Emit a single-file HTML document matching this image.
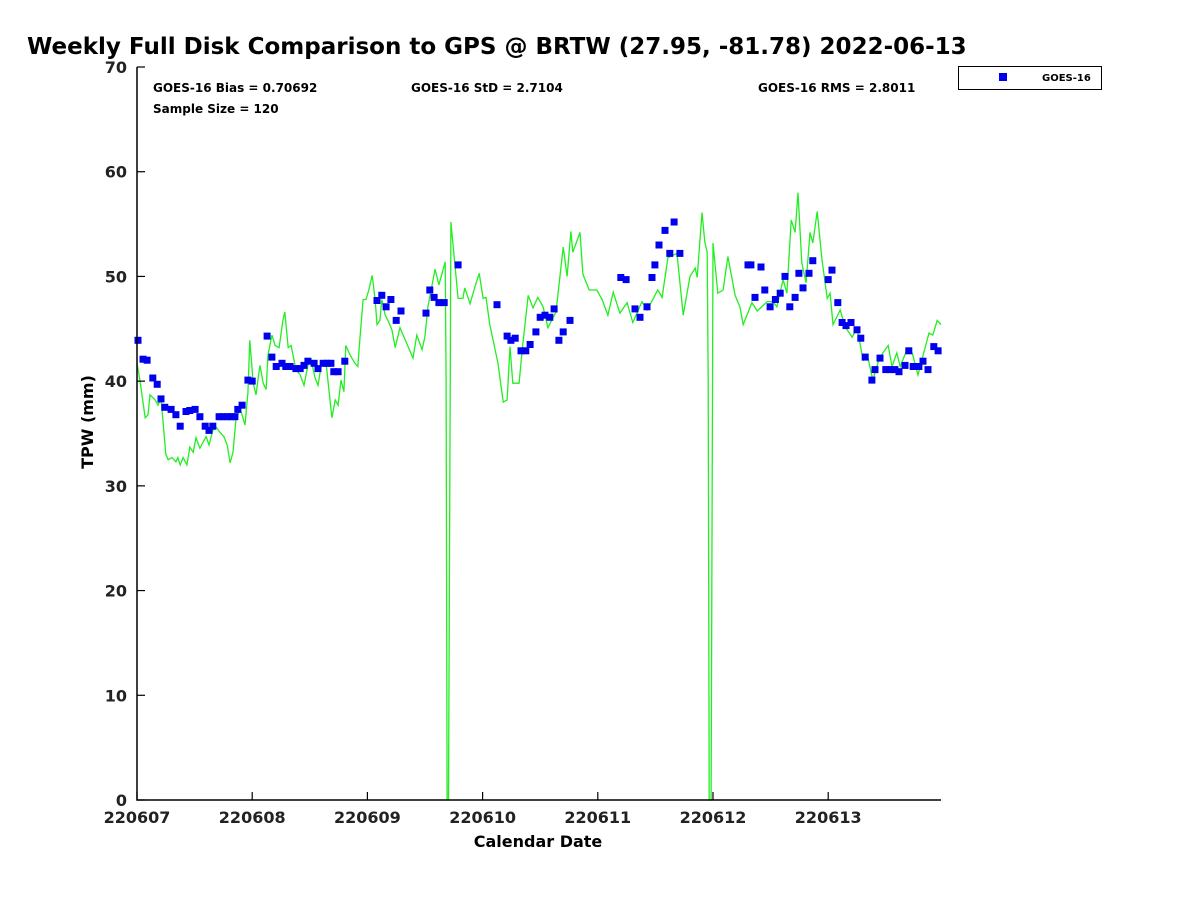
<!DOCTYPE html>
<html><head><meta charset="utf-8"><style>
body{margin:0;background:#fff;}
svg{display:block;font-family:"DejaVu Sans","Liberation Sans",sans-serif;}
</style></head><body>
<svg id="chart" width="1200" height="900" viewBox="0 0 1200 900">
<text x="27" y="54" font-size="23" font-weight="bold">Weekly Full Disk Comparison to GPS @ BRTW (27.95, -81.78) 2022-06-13</text>
<g font-size="12" font-weight="bold">
<text x="153" y="92">GOES-16 Bias = 0.70692</text>
<text x="411" y="92">GOES-16 StD = 2.7104</text>
<text x="758" y="92">GOES-16 RMS = 2.8011</text>
<text x="153" y="113">Sample Size = 120</text>
</g>
<g>
<rect x="958.5" y="66.5" width="143" height="23" fill="#fff" stroke="#000" stroke-width="1"/>
<rect x="999" y="73" width="8" height="8" fill="#0000ee"/>
<text x="1042" y="81" font-size="10" font-weight="bold">GOES-16</text>
</g>
<g id="plot"></g>
<text x="538" y="847" font-size="16" font-weight="bold" text-anchor="middle">Calendar Date</text>
<text transform="translate(93,422) rotate(-90)" font-size="16" font-weight="bold" text-anchor="middle">TPW (mm)</text>
</svg>
<script>
const yTicks=[0,10,20,30,40,50,60,70];
const xTickLabels=["220607","220608","220609","220610","220611","220612","220613"];
const gpsHours=[0,0.6,1.7,2.3,2.7,3.8,4.4,5,5.4,6,6.5,7.3,8.1,8.5,9,9.6,10.4,11,11.7,12.3,13.1,13.8,14.4,15,15.8,16.5,17.3,18.1,18.8,19.4,20,20.6,21.5,22.5,23.1,23.5,24.2,24.8,25.6,26.3,26.9,27.3,28.1,28.8,29.6,30.4,30.8,31.5,32.1,33.1,34,34.8,35.6,36.3,37.1,37.7,38.5,39.4,40.2,40.6,41.3,41.9,42.5,43.1,43.5,44.4,45.4,46,46.5,47.1,47.7,48.3,49,49.6,50,50.6,51,51.7,52.3,53.1,53.8,54.8,57.5,58.3,59.4,60,60.6,62.1,62.9,64.2,64.4,64.6,64.9,65.4,66.9,67.9,68.3,69.4,70.4,71.3,72.1,72.7,73.5,75.2,76.3,77.1,77.7,78.3,79.6,80.2,81.5,82.5,83.5,84.6,85.6,87.3,88.8,89.6,90.4,90.8,92.3,92.9,94.2,95.8,96.9,98.1,99.2,100.6,102.1,103.3,105.2,106.3,108.5,109.4,110.6,112.5,113.8,115.2,116.3,116.7,117.7,118.3,118.8,119,119.2,119.6,120,121,122.1,123.1,124.6,125.6,126.3,128.1,129.2,131.3,132.5,133.3,134.6,135.4,136.3,137.1,137.7,138.5,139.4,140.2,140.8,141.7,142.7,143.8,144.4,145,146.5,147.5,149,150,151.3,152.3,153.3,154.4,155.4,156.5,157.3,158.3,159,160.4,161.5,162.7,163.8,165,165.8,166.7,167.5];
const gpsValues=[41.7,40.1,36.5,36.8,38.7,38.2,37.7,38.4,36.3,33.0,32.5,32.7,32.3,32.7,32.0,32.7,32.0,33.7,33.2,34.6,33.6,34.2,34.7,33.9,35.3,35.6,35.1,34.7,33.9,32.2,33.2,36.3,37.4,35.8,38.9,43.9,39.8,38.7,41.5,39.8,39.2,42.5,44.4,43.4,43.2,45.8,46.6,43.2,43.4,41.1,40.6,39.6,41.5,42.0,40.3,39.6,41.8,41.7,38.2,36.5,38.2,37.7,40.1,39.0,43.4,42.5,41.7,41.4,44.4,47.8,47.8,48.7,50.1,47.8,45.4,45.8,47.8,46.3,45.8,44.9,43.2,45.1,42.2,44.4,43.0,44.3,47.1,50.7,49.2,51.4,40.1,0,0,55.2,47.9,47.9,48.9,47.4,49.0,50.3,47.9,48.0,45.4,41.7,38.0,38.2,43.3,39.8,39.8,42.8,48.2,47.0,48.0,47.1,45.1,46.6,52.8,50.0,54.3,52.3,54.2,50.2,48.7,48.7,47.8,46.3,48.5,46.5,47.5,45.6,47.6,46.8,48.7,48.0,51.8,52.2,46.3,50.0,50.8,49.9,56.1,53.3,52.3,40,0,0,53.2,48.4,48.7,51.9,48.2,47.1,45.4,47.5,46.7,47.6,47.6,47.1,49.7,48.4,55.4,54.2,58.0,51.3,49.4,54.2,53.2,56.2,51.6,47.9,48.4,45.4,46.8,45.2,44.2,45.1,42.0,42.2,40.1,41.8,42.7,43.4,41.4,42.7,41.4,43.0,42.7,40.6,42.5,44.6,44.4,45.8,45.4];
const goesHours=[0.2,1.25,2.1,3.3,4.2,5,5.8,7.1,8.1,9,10.2,11,12.1,13.1,14.2,15,15.8,17.1,17.9,18.8,19.6,20.4,21,21.9,23.1,24,27.1,28.1,29,30.2,31,31.9,33.1,34,34.8,35.6,36.9,37.7,38.8,39.6,40.4,41,41.9,43.3,50,51,51.9,52.9,54,55,60.2,61,61.9,62.9,64,66.9,75,77.1,77.9,78.8,80,81,81.9,83.1,84,85,86,86.9,87.9,88.8,90.2,100.8,101.9,103.75,104.8,106.25,107.3,107.9,108.75,110,111,111.9,113.1,127.3,127.9,128.75,130,130.8,131.9,133,134,135,136,137.1,137.9,138.75,140,140.8,144,144.8,146,146.9,147.7,148.75,150,150.8,151.7,153.1,153.75,154.8,156,156.9,157.9,158.75,160,160.8,161.7,162.9,163.75,164.8,166,166.9];
const goesValues=[43.9,42.1,42.0,40.3,39.7,38.3,37.5,37.3,36.8,35.7,37.1,37.2,37.3,36.6,35.7,35.3,35.7,36.6,36.6,36.6,36.6,36.6,37.3,37.7,40.1,40.0,44.3,42.3,41.4,41.7,41.4,41.4,41.2,41.2,41.5,41.9,41.7,41.2,41.7,41.7,41.7,40.9,40.9,41.9,47.7,48.2,47.1,47.8,45.8,46.7,46.5,48.7,48.0,47.5,47.5,51.1,47.3,44.3,43.9,44.1,42.9,42.9,43.5,44.7,46.1,46.3,46.1,46.9,43.9,44.7,45.8,49.9,49.7,46.9,46.1,47.1,49.9,51.1,53.0,54.4,52.2,55.2,52.2,51.1,51.1,48.0,50.9,48.7,47.1,47.8,48.4,50.0,47.1,48.0,50.3,48.9,50.3,51.5,49.7,50.6,47.5,45.6,45.3,45.6,44.9,44.1,42.3,40.1,41.1,42.2,41.1,41.1,41.1,40.9,41.5,42.9,41.4,41.4,41.9,41.1,43.3,42.9];

const NS='http://www.w3.org/2000/svg';
const X0=137,X1=941,Y0=800,Y1=67;
const pxPerDay=115.2;
const xs=h=>X0+h/24*pxPerDay;
const ys=v=>Y0-(v/70)*(Y0-Y1);
const plot=document.getElementById('plot');
function mk(tag,attrs){const e=document.createElementNS(NS,tag);for(const k in attrs)e.setAttribute(k,attrs[k]);plot.appendChild(e);return e;}

// series line
const d=gpsHours.map((h,i)=>(i?'L':'M')+xs(h).toFixed(1)+','+ys(gpsValues[i]).toFixed(1)).join('');
const line=mk('path',{d:d,fill:'none',stroke:'#22ee22','stroke-width':1.3});



goesHours.forEach((h,i)=>{
  const r=mk('rect',{x:(xs(h)-3.5).toFixed(1),y:(ys(goesValues[i])-3.5).toFixed(1),width:7,height:7,fill:'#0000ee'});
  
  
});

// axes
const ax=mk('path',{d:`M${X0},${Y1}L${X0},${Y0}L${X1},${Y0}`,fill:'none',stroke:'#000','stroke-width':1.5});


yTicks.forEach(v=>{
  const t=mk('line',{x1:X0,x2:X0+8,y1:ys(v),y2:ys(v),stroke:'#000','stroke-width':1.2});
  
  
  const l=mk('text',{x:127,y:ys(v)+6,'text-anchor':'end','font-size':16,'font-weight':'bold',fill:'#222'});
  l.textContent=v;
  
  
});
xTickLabels.forEach((s,i)=>{
  const x=X0+i*pxPerDay;
  const t=mk('line',{x1:x,x2:x,y1:Y0,y2:Y0-8,stroke:'#000','stroke-width':1.2});
  
  
  const l=mk('text',{x:x,y:823,'text-anchor':'middle','font-size':16,'font-weight':'bold',fill:'#222'});
  l.textContent=s;
  
  
});
</script>
</body></html>
